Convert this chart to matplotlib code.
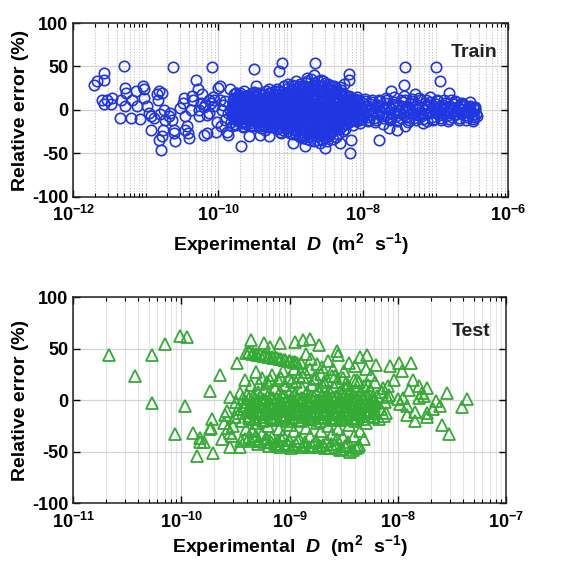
import matplotlib
matplotlib.use("Agg")
import matplotlib.pyplot as plt
import numpy as np
from matplotlib.ticker import FixedLocator, NullFormatter

plt.rcParams['font.family'] = ['Liberation Sans', 'DejaVu Sans']
plt.rcParams['font.weight'] = 'bold'
plt.rcParams['mathtext.fontset'] = 'custom'
plt.rcParams['mathtext.rm'] = 'Liberation Sans:bold'
plt.rcParams['mathtext.bf'] = 'Liberation Sans:bold'
plt.rcParams['mathtext.it'] = 'Liberation Sans:bold:italic'

# ---------------- Train data (log10 D, relative error %) ----------------
train_sparse_logD = [-11.71, -11.67, -11.58, -11.57, -11.60, -11.57, -11.53, -11.47, -11.48, -11.36,
                     -11.30, -11.34, -11.28, -11.27, -11.28, -11.20, -11.19, -11.13, -11.12, -11.08,
                     -11.03, -11.02, -11.02, -10.98, -10.96, -10.92, -10.93, -10.89, -10.84, -10.83,
                     -10.81, -10.77, -10.80, -10.82, -10.77, -10.79, -10.76, -10.75, -10.73, -10.68,
                     -10.66, -10.64, -10.62, -10.61, -10.60, -10.61, -10.52, -10.48, -10.47, -10.45,
                     -10.45, -10.43, -10.42, -10.40, -10.38, -10.36, -10.34, -10.30, -10.28, -10.27,
                     -10.26, -10.24, -10.19, -10.18, -10.15, -10.13, -10.12, -10.08, -10.06, -10.05,
                     -10.03, -10.00, -9.98, -9.98, -9.95, -9.90, -9.88, -9.87, -9.84, -9.84,
                     -9.81, -9.78, -9.76, -9.74, -9.69, -9.65, -9.58, -9.55, -9.51, -9.48,
                     -9.46, -9.42, -9.35, -9.30, -9.16, -9.12, -8.96, -8.80, -8.66, -8.52,
                     -8.20, -8.20, -8.18, -8.17, -7.78, -7.62, -7.42, -7.44, -7.42, -7.64,
                     -7.53, -7.00, -6.94, -6.82, -6.47, -6.43, -6.49,
                     -10.22, -10.10, -10.02, -9.93, -9.86, -10.16, -10.07, -9.96, -9.91, -10.20]
train_sparse_err = [29, 33, 43, 34, 12, 7, 12, 14, 7, -9,
                    51, 11, 25, 20, 4, -9, 12, 22, 4, -10,
                    28, 24, 14, 4, -3, -7, -23, -9, 18, 12,
                    22, 20, -5, -34, -30, -46, -23, 0, -11, -7,
                    -3, -11, 49, -23, -36, -26, 2, 8, 14, -7,
                    -23, -19, -27, -32, 0, 16, 12, 35, 24, -7,
                    0, 8, -29, 6, -27, 12, -3, 49, 12, 4,
                    -25, 25, 27, 12, 0, -11, -25, -29, 24, 0,
                    -7, 12, 20, 4, -42, -3, -30, -17, 47, 27,
                    12, -29, -23, -30, 45, 54, -38, -42, 54, -44,
                    41, 35, -49, -34, -34, 22, 49, 29, -18, -21,
                    -23, 49, 33, 20, 2, -7, -13,
                    18, 8, -14, 6, -4, -6, 15, -18, 10, 3]

train_core_logD = [
    -9.81, -9.79, -9.80, -9.82, -9.78, -9.80, -9.79, -9.81,
    -9.76, -9.74, -9.75, -9.73, -9.77, -9.75, -9.74, -9.76,
    -9.71, -9.69, -9.70, -9.72, -9.68, -9.70, -9.69, -9.71,
    -9.66, -9.64, -9.65, -9.67, -9.63, -9.65, -9.64, -9.66,
    -9.61, -9.59, -9.60, -9.62, -9.58, -9.60, -9.59, -9.61,
    -9.56, -9.54, -9.55, -9.57, -9.53, -9.55, -9.54, -9.56,
    -9.51, -9.49, -9.50, -9.52, -9.48, -9.50, -9.49, -9.51,
    -9.46, -9.44, -9.45, -9.47, -9.43, -9.45, -9.44, -9.46, -9.45,
    -9.41, -9.39, -9.40, -9.42, -9.38, -9.40, -9.39, -9.41, -9.40,
    -9.36, -9.34, -9.35, -9.37, -9.33, -9.35, -9.34, -9.36, -9.35,
    -9.31, -9.29, -9.30, -9.32, -9.28, -9.30, -9.29, -9.31, -9.30,
    -9.26, -9.24, -9.25, -9.27, -9.23, -9.25, -9.24, -9.26, -9.25,
    -9.21, -9.19, -9.20, -9.22, -9.18, -9.20, -9.19, -9.21, -9.20,
    -9.16, -9.14, -9.15, -9.17, -9.13, -9.15, -9.14, -9.16, -9.15, -9.17, -9.13,
    -9.11, -9.09, -9.10, -9.12, -9.08, -9.10, -9.09, -9.11, -9.10, -9.12, -9.08,
    -9.06, -9.04, -9.05, -9.07, -9.03, -9.05, -9.04, -9.06, -9.05, -9.07, -9.03,
    -9.01, -8.99, -9.00, -9.02, -8.98, -9.00, -8.99, -9.01, -9.00, -9.02, -8.98,
    -8.96, -8.94, -8.95, -8.97, -8.93, -8.95, -8.94, -8.96, -8.95, -8.97, -8.93,
    -8.91, -8.89, -8.90, -8.92, -8.88, -8.90, -8.89, -8.91, -8.90, -8.92, -8.88,
    -8.86, -8.84, -8.85, -8.87, -8.83, -8.85, -8.84, -8.86, -8.85, -8.87, -8.83, -8.85,
    -8.81, -8.79, -8.80, -8.82, -8.78, -8.80, -8.79, -8.81, -8.80, -8.82, -8.78, -8.80,
    -8.76, -8.74, -8.75, -8.77, -8.73, -8.75, -8.74, -8.76, -8.75, -8.77, -8.73, -8.75,
    -8.71, -8.69, -8.70, -8.72, -8.68, -8.70, -8.69, -8.71, -8.70, -8.72, -8.68, -8.70,
    -8.66, -8.64, -8.65, -8.67, -8.63, -8.65, -8.64, -8.66, -8.65, -8.67, -8.63, -8.65,
    -8.61, -8.59, -8.60, -8.62, -8.58, -8.60, -8.59, -8.61, -8.60, -8.62, -8.58, -8.60,
    -8.56, -8.54, -8.55, -8.57, -8.53, -8.55, -8.54, -8.56, -8.55, -8.57, -8.53, -8.55,
    -8.51, -8.49, -8.50, -8.52, -8.48, -8.50, -8.49, -8.51, -8.50, -8.52, -8.48, -8.50,
    -8.46, -8.44, -8.45, -8.47, -8.43, -8.45, -8.44, -8.46, -8.45, -8.47,
    -8.41, -8.39, -8.40, -8.42, -8.38, -8.40, -8.39, -8.41, -8.40, -8.42,
    -8.36, -8.34, -8.35, -8.37, -8.33, -8.35, -8.34, -8.36, -8.35, -8.37,
    -8.31, -8.29, -8.30, -8.32, -8.28, -8.30, -8.29, -8.31, -8.30, -8.32,
    -8.26, -8.24, -8.25, -8.27, -8.23, -8.25, -8.24, -8.26, -8.25, -8.27,
    -8.21, -8.19, -8.20, -8.22, -8.18, -8.20, -8.19,
    -8.16, -8.14, -8.15, -8.17, -8.13, -8.15, -8.14,
    -8.11, -8.09, -8.10, -8.12, -8.08, -8.10, -8.09,
    -8.06, -8.04, -8.05, -8.07, -8.03, -8.05, -8.04]
train_core_err = [
    3, -6, 12, -14, 18, -1, 7, -19,
    -3, 9, -11, 15, 0, -17, 5, 20,
    6, -8, 13, -2, -15, 19, 2, -12,
    -5, 10, -13, 1, 16, -9, 22, -20,
    4, -4, 11, -16, 8, -10, 17, -1,
    -7, 2, 14, -12, 19, -18, 6, -3,
    9, -6, 0, 12, -14, 21, -9, 4,
    -2, 7, -11, 15, -18, 3, 20, -7, 11,
    5, -9, 13, -3, -16, 18, 0, -21, 9,
    -4, 10, -13, 1, 16, -8, 22, -19, 6,
    8, -5, 12, -14, 3, 19, -10, -1, 24,
    -6, 4, 15, -11, 0, -20, 9, 21, -3,
    2, -8, 11, -15, 17, 6, -22, -3, 13,
    0, -7, 9, -13, 16, -19, 4, 22, -25, 12, -3,
    6, -10, 14, -4, 20, -17, 27, -23, 2, -12, 9,
    -5, 3, 12, -15, 18, -9, 25, -21, 8, -1, 30,
    4, -12, 10, -6, 16, -18, 23, -26, 1, 13, -2,
    -3, 8, -9, 15, -14, 21, -22, 5, 28, -28, -6,
    7, -4, 12, -11, 19, -16, 26, -24, 0, 33, -30,
    -2, 5, -8, 11, -13, 17, -19, 24, -25, 30, -32, 2,
    3, -6, 9, -12, 15, -17, 21, -23, 28, -29, 37, -1,
    -4, 7, -10, 13, -15, 19, -21, 25, -27, 33, -34, 1,
    2, -5, 8, -11, 14, -18, 20, -24, 27, -30, 40, -2,
    -3, 6, -9, 12, -14, 18, -20, 23, -26, 31, -35, 4,
    1, -7, 10, -12, 16, -16, 22, -22, 26, -28, 35, -38,
    -1, 4, -8, 9, -13, 15, -19, 20, -25, 27, -31, 33,
    3, -4, 7, -10, 12, -15, 17, -21, 24, -27, 30, -36,
    -2, 5, -8, 11, -14, 16, -19, 22, -26, 28,
    1, -6, 8, -10, 13, -17, 20, -24, 27, -33,
    -3, 4, -7, 10, -12, 15, -18, 21, -28, 25,
    2, -5, 6, -9, 11, -14, 17, -20, 23, -38,
    -1, 3, -6, 8, -11, 13, -16, 18, -22, 30,
    1, -4, 6, -9, 11, -14, 16,
    -2, 4, -7, 9, -12, 13, -17,
    0, -5, 7, -8, 10, -13, 15,
    -3, 3, -6, 8, -10, 12, -15]

train_fill_logD = [
    -9.775, -9.765, -9.785, -9.770, -9.780, -9.763,
    -9.725, -9.715, -9.735, -9.720, -9.730, -9.713,
    -9.675, -9.665, -9.685, -9.670, -9.680, -9.663,
    -9.625, -9.615, -9.635, -9.620, -9.630, -9.613,
    -9.575, -9.565, -9.585, -9.570, -9.580, -9.563,
    -9.525, -9.515, -9.535, -9.520, -9.530, -9.513,
    -9.475, -9.465, -9.485, -9.470, -9.480, -9.463, -9.487,
    -9.425, -9.415, -9.435, -9.420, -9.430, -9.413, -9.437,
    -9.375, -9.365, -9.385, -9.370, -9.380, -9.363, -9.387,
    -9.325, -9.315, -9.335, -9.320, -9.330, -9.313, -9.337,
    -9.275, -9.265, -9.285, -9.270, -9.280, -9.263, -9.287,
    -9.225, -9.215, -9.235, -9.220, -9.230, -9.213, -9.237,
    -9.175, -9.165, -9.185, -9.170, -9.180, -9.163, -9.187, -9.172,
    -9.125, -9.115, -9.135, -9.120, -9.130, -9.113, -9.137, -9.122,
    -9.075, -9.065, -9.085, -9.070, -9.080, -9.063, -9.087, -9.072,
    -9.025, -9.015, -9.035, -9.020, -9.030, -9.013, -9.037, -9.022,
    -8.975, -8.965, -8.985, -8.970, -8.980, -8.963, -8.987, -8.972,
    -8.925, -8.915, -8.935, -8.920, -8.930, -8.913, -8.937, -8.922,
    -8.875, -8.865, -8.885, -8.870, -8.880, -8.863, -8.887, -8.872,
    -8.825, -8.815, -8.835, -8.820, -8.830, -8.813, -8.837, -8.822,
    -8.775, -8.765, -8.785, -8.770, -8.780, -8.763, -8.787, -8.772,
    -8.725, -8.715, -8.735, -8.720, -8.730, -8.713, -8.737, -8.722,
    -8.675, -8.665, -8.685, -8.670, -8.680, -8.663, -8.687, -8.672,
    -8.625, -8.615, -8.635, -8.620, -8.630, -8.613, -8.637, -8.622,
    -8.575, -8.565, -8.585, -8.570, -8.580, -8.563, -8.587, -8.572,
    -8.525, -8.515, -8.535, -8.520, -8.530, -8.513, -8.537, -8.522,
    -8.475, -8.465, -8.485, -8.470, -8.480, -8.463, -8.487, -8.472,
    -8.425, -8.415, -8.435, -8.420, -8.430, -8.413, -8.437, -8.422,
    -8.375, -8.365, -8.385, -8.370, -8.380, -8.363, -8.387, -8.372,
    -8.325, -8.315, -8.335, -8.320, -8.330, -8.313, -8.337, -8.322,
    -8.275, -8.265, -8.285, -8.270, -8.280, -8.263, -8.287, -8.272,
    -8.225, -8.215, -8.235, -8.220, -8.230, -8.213,
    -8.175, -8.165, -8.185, -8.170, -8.180, -8.163,
    -8.125, -8.115, -8.135, -8.120, -8.130, -8.113,
    -8.075, -8.065, -8.085, -8.070, -8.080, -8.063]
train_fill_err = [
    1, -9, 8, -16, 14, -4,
    -2, 6, -12, 11, -7, 17,
    4, -5, 15, -10, 9, -18,
    -1, 7, -14, 12, -6, 3,
    5, -11, 10, -3, 16, -15,
    -4, 8, -8, 13, 1, -19,
    2, -6, 11, -13, 18, -2, 6,
    -3, 9, -10, 14, -17, 4, -7,
    6, -8, 12, -4, 17, -14, 1,
    -5, 3, -12, 15, 9, -20, -1,
    1, -9, 10, -15, 19, 5, -6,
    -2, 7, -11, 13, -18, 22, 2,
    3, -5, 11, -12, 18, -21, 24, -8,
    -1, 8, -9, 15, -16, 21, -26, 5,
    4, -6, 13, -13, 20, -20, 27, -3,
    -3, 7, -11, 14, -17, 22, -24, 1,
    2, -8, 10, -15, 19, -22, 29, -4,
    -1, 6, -12, 13, -19, 24, -27, 8,
    3, -7, 11, -14, 20, -23, 28, -31,
    -2, 5, -10, 16, -18, 26, -29, 9,
    4, -6, 12, -15, 21, -25, 31, -33,
    -3, 8, -11, 14, -20, 23, -28, 36,
    1, -8, 10, -13, 18, -24, 29, -36,
    -1, 6, -9, 15, -17, 22, -30, 33,
    3, -5, 11, -14, 19, -23, 27, -34,
    -2, 7, -10, 13, -18, 21, -29, 31,
    2, -6, 9, -12, 16, -20, 25, -30,
    -1, 5, -9, 12, -15, 19, -25, 28,
    3, -4, 8, -11, 14, -19, 22, -31,
    -2, 6, -7, 10, -13, 17, -22, 26,
    1, -5, 7, -10, 12, -16, 20, -24,
    -1, 4, -8, 9, -12, 15,
    2, -3, 6, -10, 11, -13,
    -2, 5, -6, 8, -11, 13,
    1, -4, 7, -9, 10, -12]

train_tail_logD = [
    -8.01, -7.99, -8.00, -8.02, -7.98,
    -7.96, -7.94, -7.95, -7.97, -7.93,
    -7.91, -7.89, -7.90, -7.92, -7.88,
    -7.86, -7.84, -7.85, -7.87, -7.83,
    -7.81, -7.79, -7.80, -7.82, -7.78,
    -7.76, -7.74, -7.75, -7.77, -7.73,
    -7.71, -7.69, -7.70, -7.72, -7.68,
    -7.66, -7.64, -7.65, -7.67, -7.63,
    -7.61, -7.59, -7.60, -7.62, -7.58,
    -7.56, -7.54, -7.55, -7.57, -7.53,
    -7.51, -7.49, -7.50, -7.52, -7.48,
    -7.46, -7.44, -7.45, -7.47, -7.43,
    -7.41, -7.39, -7.40, -7.42, -7.38,
    -7.36, -7.34, -7.35, -7.37, -7.33,
    -7.31, -7.29, -7.30, -7.32, -7.28,
    -7.26, -7.24, -7.25, -7.27, -7.23,
    -7.21, -7.19, -7.20, -7.22, -7.18,
    -7.16, -7.14, -7.15, -7.17, -7.13,
    -7.11, -7.09, -7.10, -7.12, -7.08,
    -7.06, -7.04, -7.05, -7.07, -7.03,
    -7.01, -6.99, -7.00, -7.02, -6.98,
    -6.96, -6.94, -6.95, -6.97, -6.93,
    -6.91, -6.89, -6.90, -6.92, -6.88,
    -6.86, -6.84, -6.85, -6.87, -6.83,
    -6.81, -6.79, -6.80, -6.82, -6.78,
    -6.76, -6.74, -6.75, -6.77, -6.73,
    -6.71, -6.69, -6.70, -6.72, -6.68,
    -6.66, -6.64, -6.65, -6.67, -6.63,
    -6.61, -6.59, -6.60, -6.62, -6.58,
    -6.56, -6.54, -6.55, -6.57, -6.53,
    -6.51, -6.49, -6.50, -6.52, -6.48,
    -6.46, -6.44, -6.45, -6.47]
train_tail_err = [
    2, -5, 8, -10, 13,
    -3, 4, -8, 10, -13,
    1, -6, 7, -11, 12,
    -2, 5, -9, 9, -14,
    3, -4, 6, -12, 11,
    -1, 4, -7, 10, -16,
    2, -6, 8, -9, 14,
    -3, 3, -8, 11, -12,
    1, -5, 7, -10, 15,
    -2, 6, -7, 9, -13,
    0, -4, 5, -11, 12,
    3, -6, 9, -9, 16,
    -1, 5, -8, 11, -14,
    2, -3, 7, -12, 13,
    -4, 4, -9, 10, 18,
    1, -6, 6, -11, 14,
    -2, 3, -7, 12, -15,
    0, -5, 8, -10, 11,
    3, -3, 6, -13, 15,
    -1, 5, -8, 9, -11,
    2, -4, 7, -10, 12,
    -3, 4, -6, 10, -12,
    1, -5, 6, -9, 11,
    -2, 3, -7, 8, -13,
    0, -4, 5, -10, 12,
    2, -6, 7, -8, 10,
    -1, 3, -5, 9, -11,
    1, -3, 6, -9, 8,
    -2, 4, -6, 7, -12,
    0, -4, 3, -8, 9,
    -2, 2, -6, 5, -10,
    1, -5, 3, -8]

# ---------------- Test data (log10 D, relative error %) ----------------
test_sparse_logD = [-10.67, -10.43, -10.27, -10.27, -10.15, -10.06, -10.01, -9.95, -9.97, -9.89,
                    -9.86, -9.83, -9.83, -9.79, -9.74, -9.73, -9.72, -9.74, -9.71, -9.64,
                    -9.63, -9.61, -9.55, -9.55, -9.49, -9.46, -9.46, -9.52, -9.51, -9.55,
                    -9.42, -9.36, -9.38, -9.24, -9.18, -9.09, -8.95, -8.88, -8.81, -8.73,
                    -8.56, -8.29, -9.58, -9.50, -9.47, -9.44, -9.57, -9.53, -9.45, -9.43,
                    -9.48, -9.60]
test_sparse_err = [44, 24, -3, 44, 55, -33, 62, 61, -6, -32,
                   -54, -37, -41, -41, 9, -27, -18, -28, -51, 25,
                   -38, -22, 3, -45, 36, 7, -45, -25, -16, -32,
                   -6, 59, 47, 56, 52, 56, 57, 59, 60, 54,
                   48, 44, -10, -2, -12, -20, -27, -35, -40, 2,
                   -8, -14]

test_core_logD = [
    -9.40, -9.41, -9.39, -9.40, -9.42, -9.38, -9.40, -9.41,
    -9.35, -9.36, -9.34, -9.35, -9.37, -9.33, -9.35, -9.36,
    -9.30, -9.31, -9.29, -9.30, -9.32, -9.28, -9.30, -9.31, -9.29,
    -9.25, -9.26, -9.24, -9.25, -9.27, -9.23, -9.25, -9.26, -9.24,
    -9.20, -9.21, -9.19, -9.20, -9.22, -9.18, -9.20, -9.21, -9.19,
    -9.15, -9.16, -9.14, -9.15, -9.17, -9.13, -9.15, -9.16, -9.14,
    -9.10, -9.11, -9.09, -9.10, -9.12, -9.08, -9.10, -9.11, -9.09,
    -9.05, -9.06, -9.04, -9.05, -9.07, -9.03, -9.05, -9.06, -9.04,
    -9.00, -9.01, -8.99, -9.00, -9.02, -8.98, -9.00, -9.01, -8.99,
    -8.95, -8.96, -8.94, -8.95, -8.97, -8.93, -8.95, -8.96, -8.94,
    -8.90, -8.91, -8.89, -8.90, -8.92, -8.88, -8.90, -8.91, -8.89,
    -8.85, -8.86, -8.84, -8.85, -8.87, -8.83, -8.85, -8.86,
    -8.80, -8.81, -8.79, -8.80, -8.82, -8.78, -8.80, -8.81, -8.79,
    -8.75, -8.76, -8.74, -8.75, -8.77, -8.73, -8.75, -8.76, -8.74,
    -8.70, -8.71, -8.69, -8.70, -8.72, -8.68, -8.70, -8.71, -8.69,
    -8.65, -8.66, -8.64, -8.65, -8.67, -8.63, -8.65, -8.66, -8.64,
    -8.60, -8.61, -8.59, -8.60, -8.62, -8.58, -8.60, -8.61, -8.59,
    -8.55, -8.56, -8.54, -8.55, -8.57, -8.53, -8.55, -8.56, -8.54,
    -8.50, -8.51, -8.49, -8.50, -8.52, -8.48, -8.50, -8.51, -8.49,
    -8.45, -8.46, -8.44, -8.45, -8.47, -8.43, -8.45, -8.46, -8.44,
    -8.40, -8.41, -8.39, -8.40, -8.42, -8.38, -8.40, -8.41, -8.39,
    -8.35, -8.36, -8.34, -8.35, -8.37, -8.33, -8.35, -8.36,
    -8.30, -8.31, -8.29, -8.30, -8.32, -8.28, -8.30, -8.31,
    -8.25, -8.26, -8.24, -8.25, -8.27, -8.23,
    -8.20, -8.21, -8.19, -8.20, -8.22, -8.18]
test_core_err = [
    46, 20, 5, -2, -8, -15, -28, -38,
    45, 15, 3, -4, -10, -18, -30, -40,
    44, 27, 8, 0, -6, -12, -22, -35, -42,
    43, 22, 10, 1, -5, -13, -20, -33, -41,
    42, 18, 6, -3, -9, -16, -25, -38, -44,
    41, 25, 12, 2, -4, -11, -19, -36, -42,
    40, 20, 8, -1, -7, -14, -28, -40, -45,
    39, 28, 15, 4, -3, -10, -18, -34, -43,
    38, 22, 10, 0, -6, -13, -24, -39, -46,
    37, 30, 18, 6, -2, -9, -16, -30, -42,
    36, 24, 12, 2, -5, -12, -20, -37, -45,
    45, 27, 8, -1, -8, -15, -27, -41,
    40, 30, 15, 4, -3, -10, -18, -35, -44,
    35, 22, 10, 0, -6, -13, -22, -39, -45,
    32, 26, 14, 5, -2, -9, -17, -30, -43,
    38, 20, 9, 1, -5, -12, -25, -40, -46,
    30, 24, 13, 3, -3, -10, -19, -33, -42,
    44, 18, 8, -1, -7, -14, -28, -38, -48,
    28, 22, 12, 4, -2, -9, -18, -36, -44,
    36, 15, 7, 0, -6, -13, -24, -41, -50,
    33, 20, 10, 3, -3, -11, -20, -35, -46,
    42, 18, 6, -1, -8, -15, -30, -43,
    30, 14, 5, -2, -6, -12, -22, -38,
    25, 10, 2, -4, -10, -16,
    34, 18, 4, -3, -9, -18]

test_fill_logD = [
    -9.375, -9.370, -9.380, -9.375, -9.325, -9.320, -9.330, -9.325,
    -9.275, -9.270, -9.280, -9.275, -9.225, -9.220, -9.230, -9.225,
    -9.175, -9.170, -9.180, -9.175, -9.125, -9.120, -9.130, -9.125,
    -9.075, -9.070, -9.080, -9.075, -9.025, -9.020, -9.030, -9.025,
    -8.975, -8.970, -8.980, -8.975, -8.925, -8.920, -8.930, -8.925,
    -8.875, -8.870, -8.880, -8.875, -8.825, -8.820, -8.830, -8.825,
    -8.775, -8.770, -8.780, -8.775, -8.725, -8.720, -8.730, -8.725,
    -8.675, -8.670, -8.680, -8.675, -8.625, -8.620, -8.630, -8.625,
    -8.575, -8.570, -8.580, -8.575, -8.525, -8.520, -8.530, -8.525,
    -8.475, -8.470, -8.480, -8.475, -8.425, -8.420, -8.430, -8.425,
    -8.375, -8.370, -8.380, -8.375, -8.325, -8.320, -8.330, -8.325,
    -8.275, -8.270, -8.280, -8.275, -8.225, -8.220, -8.230, -8.225,
    -8.15, -8.12, -8.10, -8.16, -8.14, -8.11, -8.08, -8.13]
test_fill_err = [
    2, -5, -11, -17, 1, -6, -12, -18,
    3, -4, -10, -16, 0, -7, -13, -19,
    2, -5, -11, -17, 1, -6, -12, -18,
    4, -3, -9, -16, 0, -7, -14, -20,
    3, -5, -11, -17, 1, -6, -12, -19,
    2, -4, -10, -16, 0, -7, -13, -18,
    3, -5, -11, -17, 1, -6, -12, -20,
    2, -4, -10, -16, 0, -7, -13, -18,
    4, -5, -11, -17, 1, -6, -12, -19,
    2, -4, -10, -16, 0, -7, -13, -18,
    3, -5, -11, -17, 1, -6, -12, -18,
    2, -4, -10, -15, 0, -6, -12, -16,
    8, -2, 3, -8, 12, -12, 5, -15]

test_stripe_logD = [-9.38, -9.34, -9.31, -9.27, -9.23, -9.19, -9.16, -9.12, -9.08, -9.04, -9.01, -8.97, -8.93,
                    -9.38, -9.33, -9.28, -9.22, -9.17, -9.12, -9.07, -9.02, -8.97, -8.92, -8.87, -8.82,
                    -8.77, -8.72, -8.67, -8.62, -8.57, -8.52, -8.47, -8.42, -8.37,
                    -9.28, -9.18, -9.08, -8.98, -8.88, -8.78, -8.68, -8.58, -8.48, -8.38, -8.28]
test_stripe_err = [47, 46, 45, 44, 44, 43, 42, 41, 40, 39, 38, 37, 36,
                   -36, -38, -40, -37, -41, -43, -39, -42, -44, -40, -43, -45,
                   -41, -44, -46, -42, -45, -47, -43, -48, -45,
                   16, 20, 22, 19, 23, 21, 18, 24, 17, 20, 15]

test_tail_logD = [-7.99, -7.88, -8.07, -7.96, -7.86, -7.81, -7.78, -7.73, -7.65, -7.61,
                  -7.73, -7.73, -7.84, -7.92, -7.84, -7.55, -7.59, -7.53, -7.41, -7.36,
                  -7.81, -7.95, -7.92, -8.00, -8.09, -8.04, -7.90, -7.76, -7.68, -7.98]
test_tail_err = [36, 36, 33, 28, 20, 14, 7, 12, -1, -6,
                 -16, -12, -11, -14, -20, 7, -24, -33, -7, 1,
                 2, 2, -6, 1, 14, 20, 10, 4, -8, -4]

train_x = 10.0 ** np.array(train_sparse_logD + train_core_logD + train_fill_logD + train_tail_logD)
train_y = np.array(train_sparse_err + train_core_err + train_fill_err + train_tail_err)
test_x = 10.0 ** np.array(test_sparse_logD + test_core_logD + test_fill_logD
                          + test_stripe_logD + test_tail_logD)
test_y = np.array(test_sparse_err + test_core_err + test_fill_err + test_stripe_err + test_tail_err)

train_major_exp = [-12, -10, -8, -6]
test_major_exp = [-11, -10, -9, -8, -7]
y_ticks = [-100, -50, 0, 50, 100]

blue = '#1f36e0'
green = '#35aa35'

fig = plt.figure(figsize=(5.76, 5.61), dpi=100)
ax1 = fig.add_axes([0.127, 0.649, 0.755, 0.310])
ax2 = fig.add_axes([0.127, 0.103, 0.752, 0.367])


def minor_positions(lo, hi, majors):
    pos = []
    for e in range(lo, hi):
        for m in range(1, 10):
            v = m * 10.0 ** e
            if not (m == 1 and e in majors):
                pos.append(v)
    return pos


def style(ax, lo, hi, majors, minor_ls, minor_color, xlabelpad):
    ax.set_xscale('log')
    ax.set_xlim(10.0 ** lo, 10.0 ** hi)
    ax.set_ylim(-100, 100)
    ax.xaxis.set_major_locator(FixedLocator([10.0 ** e for e in majors]))
    ax.xaxis.set_minor_locator(FixedLocator(minor_positions(lo, hi, majors)))
    ax.xaxis.set_minor_formatter(NullFormatter())
    ax.set_xticklabels([r'$\mathbf{10^{%d}}$' % e for e in majors])
    ax.set_yticks(y_ticks)
    ax.set_yticklabels([str(v) for v in y_ticks])
    ax.tick_params(which='both', direction='in', top=True, right=True, labelsize=13)
    ax.tick_params(axis='x', which='major', pad=6)
    ax.tick_params(which='major', length=5, width=1)
    ax.tick_params(which='minor', length=3, width=0.8)
    ax.grid(True, which='major', color='#d4d4d4', lw=0.9, ls='-')
    ax.grid(True, which='minor', axis='x', color=minor_color, lw=0.8, ls=minor_ls)
    ax.set_axisbelow(True)
    for s in ax.spines.values():
        s.set_linewidth(1.1)
        s.set_color('#222222')
    ax.set_ylabel('Relative error (%)', fontsize=14, fontweight='bold', labelpad=2)
    ax.set_xlabel(r'Experimental  $\mathit{D}$  (m$^{\mathbf{2}}$  s$^{\mathbf{-1}}$)',
                  fontsize=14, fontweight='bold', labelpad=xlabelpad)


style(ax1, -12, -6, train_major_exp, (0, (1, 1.5)), '#c0c0c0', 4)
style(ax2, -11, -7, test_major_exp, '-', '#e4e4e4', 1)

ax1.plot(train_x, train_y, 'o', ms=7.5, mfc='none', mec=blue, mew=1.2, ls='none')
ax2.plot(test_x, test_y, '^', ms=8, mfc='none', mec=green, mew=1.3, ls='none')

ax1.text(0.975, 0.83, 'Train', transform=ax1.transAxes, ha='right', va='center',
         fontsize=14, fontweight='bold', color='#222222')
ax2.text(0.963, 0.835, 'Test', transform=ax2.transAxes, ha='right', va='center',
         fontsize=14, fontweight='bold', color='#222222')

fig.savefig('out.png', dpi=100)
